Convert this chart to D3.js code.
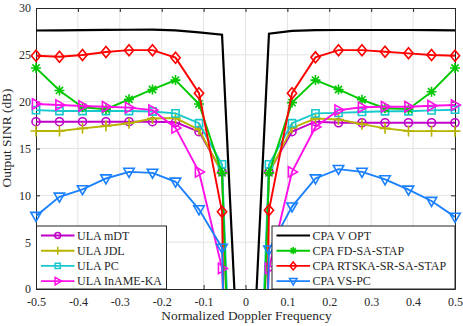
<!DOCTYPE html>
<html>
<head>
<meta charset="utf-8">
<script src="https://cdn.jsdelivr.net/npm/d3@7/dist/d3.min.js"></script>
<style>
  body { margin: 0; background: #fff; }
  svg text { font-family: "Liberation Serif", "Times New Roman", serif; fill: #262626; }
</style>
</head>
<body>
<svg id="chart"></svg>
<script>
const margin = {top: 8, right: 8, bottom: 37, left: 36},
  width = 419,
  height = 281;

// normalized doppler frequency grid
const doppler = [-0.5, -0.444, -0.389, -0.333, -0.278, -0.222, -0.167, -0.111, -0.056, 0,
  0.056, 0.111, 0.167, 0.222, 0.278, 0.333, 0.389, 0.444, 0.5];

const ulaMdt = [17.86, 17.86, 17.86, 17.86, 17.86, 17.86, 17.8, 16.8, 12.5, -60,
  12.5, 16.8, 17.86, 17.75, 17.75, 17.75, 17.75, 17.75, 17.75];
const ulaJdl = [16.87, 16.87, 17.15, 17.4, 17.7, 18.2, 18.25, 17.0, 12.4, -60,
  12.4, 17.2, 18.2, 18.1, 17.6, 17.15, 16.87, 16.85, 16.85];
const ulaPc = [19.1, 19.0, 19.0, 19.0, 19.0, 18.95, 18.75, 17.7, 13.3, -52,
  13.3, 17.7, 18.75, 18.8, 18.9, 18.97, 18.97, 19.07, 19.14];
const ulaInameKa = [19.75, 19.64, 19.54, 19.46, 19.36, 19.1, 17.2, 12.5, 2.2, -60,
  2.2, 12.5, 17.3, 19.1, 19.4, 19.46, 19.46, 19.57, 19.64];
const cpaVOpt = [27.6, 27.62, 27.64, 27.66, 27.68, 27.7, 27.62, 27.4, 27.15, -24.5,
  27.25, 27.55, 27.64, 27.65, 27.65, 27.65, 27.65, 27.64, 27.62];
const cpaFdSaStap = [23.6, 21.2, 19.4, 19.2, 20.25, 21.3, 22.3, 19.75, 12.4, -60,
  12.4, 19.9, 22.3, 21.3, 20.2, 19.3, 19.2, 21.06, 23.6];
const cpaRtska = [24.9, 24.8, 24.98, 25.3, 25.5, 25.5, 24.7, 20.9, 8.25, -150,
  8.4, 20.9, 24.73, 25.5, 25.5, 25.33, 25.16, 24.98, 24.9];
const cpaVsPc = [7.8, 9.85, 10.64, 11.8, 12.5, 12.4, 11.45, 8.5, 4.4, -100,
  4.2, 8.8, 11.8, 12.8, 12.5, 11.7, 10.6, 9.4, 7.7];

const xTicks = [-0.5, -0.4, -0.3, -0.2, -0.1, 0, 0.1, 0.2, 0.3, 0.4, 0.5];
const yTicks = [0, 5, 10, 15, 20, 25, 30];

const series = [
  {name: 'ULA mDT', values: ulaMdt, color: '#c000c8', marker: 'circle'},
  {name: 'ULA JDL', values: ulaJdl, color: '#b8b400', marker: 'plus'},
  {name: 'ULA PC', values: ulaPc, color: '#18c8cc', marker: 'square'},
  {name: 'CPA V OPT', values: cpaVOpt, color: '#000000', marker: null},
  {name: 'CPA FD-SA-STAP', values: cpaFdSaStap, color: '#00c800', marker: 'star'},
  {name: 'ULA InAME-KA', values: ulaInameKa, color: '#ff10e8', marker: 'triright'},
  {name: 'CPA RTSKA-SR-SA-STAP', values: cpaRtska, color: '#ff0000', marker: 'diamond'},
  {name: 'CPA VS-PC', values: cpaVsPc, color: '#1a80ff', marker: 'tridown'}
];
const legendLeft = ['ULA mDT', 'ULA JDL', 'ULA PC', 'ULA InAME-KA'];
const legendRight = ['CPA V OPT', 'CPA FD-SA-STAP', 'CPA RTSKA-SR-SA-STAP', 'CPA VS-PC'];

function markerPath(type, k) {
  const p = d3.path();
  if (type === 'circle') {
    p.moveTo(4 * k, 0); p.arc(0, 0, 4 * k, 0, 2 * Math.PI);
  } else if (type === 'square') {
    p.rect(-3.6 * k, -3.6 * k, 7.2 * k, 7.2 * k);
  } else if (type === 'diamond') {
    p.moveTo(0, -5.5 * k); p.lineTo(4.6 * k, 0); p.lineTo(0, 5.5 * k); p.lineTo(-4.6 * k, 0); p.closePath();
  } else if (type === 'tridown') {
    p.moveTo(-5.2 * k, -3.6 * k); p.lineTo(5.2 * k, -3.6 * k); p.lineTo(0, 5.4 * k); p.closePath();
  } else if (type === 'triright') {
    p.moveTo(-3.6 * k, -5.2 * k); p.lineTo(5.4 * k, 0); p.lineTo(-3.6 * k, 5.2 * k); p.closePath();
  } else if (type === 'plus') {
    p.moveTo(-5.5 * k, 0); p.lineTo(5.5 * k, 0); p.moveTo(0, -5.5 * k); p.lineTo(0, 5.5 * k);
  } else if (type === 'star') {
    const a = 5 * k, b = 3.6 * k;
    p.moveTo(-a, 0); p.lineTo(a, 0); p.moveTo(0, -a); p.lineTo(0, a);
    p.moveTo(-b, -b); p.lineTo(b, b); p.moveTo(-b, b); p.lineTo(b, -b);
  }
  return p.toString();
}

const x = d3.scaleLinear().domain([-0.5, 0.5]).range([0, width]);
const y = d3.scaleLinear().domain([0, 30]).range([height, 0]);
const fmt = d => d === 0 ? '0' : d3.format('.1f')(d).replace('\u2212', '-');

const svg = d3.select('#chart')
  .attr('width', width + margin.left + margin.right)
  .attr('height', height + margin.top + margin.bottom);

const chart = svg.append('g')
  .attr('transform', `translate(${margin.left}, ${margin.top})`);

svg.append('defs').append('clipPath').attr('id', 'plot-clip')
  .append('rect').attr('width', width).attr('height', height);

// grid
chart.append('g').selectAll('line.gx')
  .data(xTicks.slice(1, -1)).enter().append('line')
  .attr('x1', d => x(d)).attr('x2', d => x(d))
  .attr('y1', 0).attr('y2', height)
  .style('stroke', '#e3e3e3').style('stroke-width', 1);
chart.append('g').selectAll('line.gy')
  .data(yTicks.slice(1, -1)).enter().append('line')
  .attr('x1', 0).attr('x2', width)
  .attr('y1', d => y(d)).attr('y2', d => y(d))
  .style('stroke', '#e3e3e3').style('stroke-width', 1);

// axes (ticks pointing inward, box on)
const xAxis = chart.append('g')
  .attr('transform', `translate(0,${height})`)
  .call(d3.axisBottom(x).tickValues(xTicks).tickFormat(fmt).tickSizeInner(-4).tickSizeOuter(0).tickPadding(8.5));
const yAxis = chart.append('g')
  .call(d3.axisLeft(y).tickValues(yTicks).tickSizeInner(-4).tickSizeOuter(0).tickPadding(5));
chart.append('g')
  .call(d3.axisTop(x).tickValues(xTicks).tickFormat('').tickSizeInner(-4).tickSizeOuter(0));
chart.append('g')
  .attr('transform', `translate(${width},0)`)
  .call(d3.axisRight(y).tickValues(yTicks).tickFormat('').tickSizeInner(-4).tickSizeOuter(0));
chart.selectAll('.domain, .tick line').style('stroke', '#262626');
chart.selectAll('.tick text').style('font-size', '12px')
  .style('font-family', '"Liberation Serif", "Times New Roman", serif').style('fill', '#262626');

// lines
const line = d3.line()
  .x((d, i) => x(doppler[i]))
  .y(d => y(d));

const plot = chart.append('g');
series.forEach(s => {
  plot.append('path')
    .datum(s.values)
    .attr('clip-path', 'url(#plot-clip)')
    .attr('d', line)
    .style('fill', 'none')
    .style('stroke', s.color)
    .style('stroke-width', s.marker ? 1.9 : 2.2);
  if (s.marker) {
    plot.selectAll(null)
      .data(s.values.map((v, i) => [doppler[i], v]).filter(d => d[1] >= 0 && d[1] <= 30))
      .enter().append('path')
      .attr('transform', d => `translate(${x(d[0])},${y(d[1])})`)
      .attr('d', markerPath(s.marker, 1))
      .style('fill', 'none')
      .style('stroke', s.color)
      .style('stroke-width', 1.6);
  }
});

// legends
function legend(names, lx, ly, w) {
  const g = chart.append('g').attr('transform', `translate(${lx},${ly})`);
  g.append('rect')
    .attr('width', w).attr('height', 63)
    .style('fill', '#fff').style('stroke', '#262626').style('stroke-width', 1);
  names.forEach((n, i) => {
    const s = series.find(d => d.name === n);
    const cy = 9.5 + i * 15.2;
    g.append('line')
      .attr('x1', 4.5).attr('x2', 38).attr('y1', cy).attr('y2', cy)
      .style('stroke', s.color).style('stroke-width', 1.9);
    if (s.marker) {
      g.append('path')
        .attr('transform', `translate(21.25,${cy})`)
        .attr('d', markerPath(s.marker, 0.72))
        .style('fill', 'none').style('stroke', s.color).style('stroke-width', 1.5);
    }
    g.append('text')
      .attr('x', 40.5).attr('y', cy + 4.3)
      .style('font-size', '12px')
      .text(n);
  });
}
legend(legendLeft, 0.5, 218, 130);
legend(legendRight, 236, 218, 183);

// axis titles
chart.append('text')
  .attr('x', width / 2 + 1)
  .attr('y', height + 31)
  .attr('text-anchor', 'middle')
  .style('font-size', '13.4px')
  .text('Normalized Doppler Frequency');

svg.append('text')
  .attr('transform', `translate(11,${margin.top + 130}) rotate(-90)`)
  .attr('text-anchor', 'middle')
  .style('font-size', '13.4px')
  .text('Output SINR (dB)');
</script>
</body>
</html>
